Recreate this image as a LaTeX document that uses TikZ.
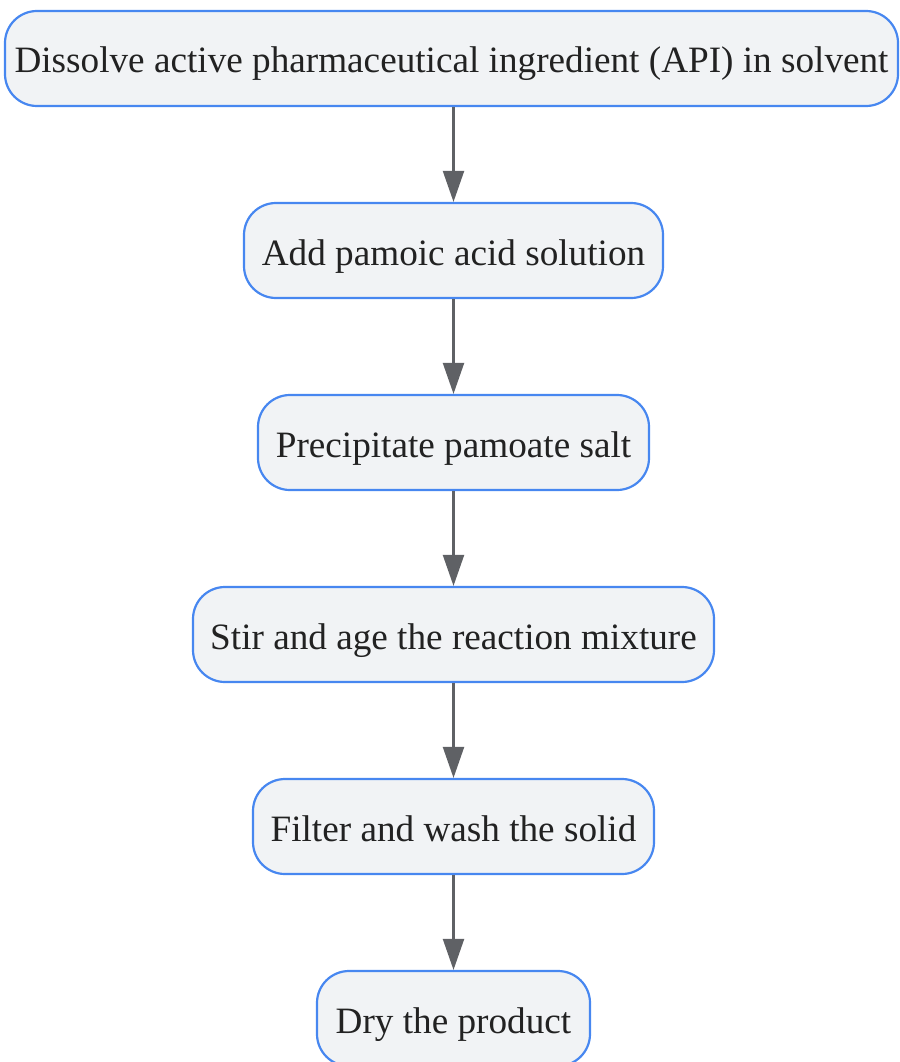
\documentclass[tikz,border=0pt]{standalone}
\usepackage{fontspec}
\setmainfont{Liberation Serif}
\usetikzlibrary{arrows.meta}
\definecolor{boxfill}{HTML}{F1F3F5}
\definecolor{boxline}{HTML}{4787F0}
\definecolor{arrowc}{HTML}{5F6165}
\definecolor{txt}{HTML}{222222}
\tikzset{
  stepbox/.style={draw=boxline, line width=2.2pt, fill=boxfill, rounded corners=32pt,
    minimum height=95pt, inner sep=0pt, text height=35pt, text depth=6pt,
    text=txt, font=\fontsize{37.2}{42}\selectfont},
  flow/.style={draw=arrowc, line width=2.2pt, -{Triangle[length=31pt,width=21pt]}}
}
\begin{document}
\begin{tikzpicture}[x=1pt,y=-1pt]
\useasboundingbox (0,0) rectangle (899,1062);
\node[stepbox, minimum width=893pt] (n1) at (451.5,58.5) {Dissolve active pharmaceutical ingredient (API) in solvent};
\node[stepbox, minimum width=419pt] (n2) at (453.5,250.5) {Add pamoic acid solution};
\node[stepbox, minimum width=391pt] (n3) at (453.5,442.5) {Precipitate pamoate salt};
\node[stepbox, minimum width=521pt] (n4) at (453.5,634.5) {Stir and age the reaction mixture};
\node[stepbox, minimum width=401pt] (n5) at (453.5,826.5) {Filter and wash the solid};
\node[stepbox, minimum width=273pt] (n6) at (453.5,1018.5) {Dry the product};
\draw[flow] (n1.south -| n2.north) -- (n2.north);
\draw[flow] (n2) -- (n3);
\draw[flow] (n3) -- (n4);
\draw[flow] (n4) -- (n5);
\draw[flow] (n5) -- (n6);
\end{tikzpicture}
\end{document}
